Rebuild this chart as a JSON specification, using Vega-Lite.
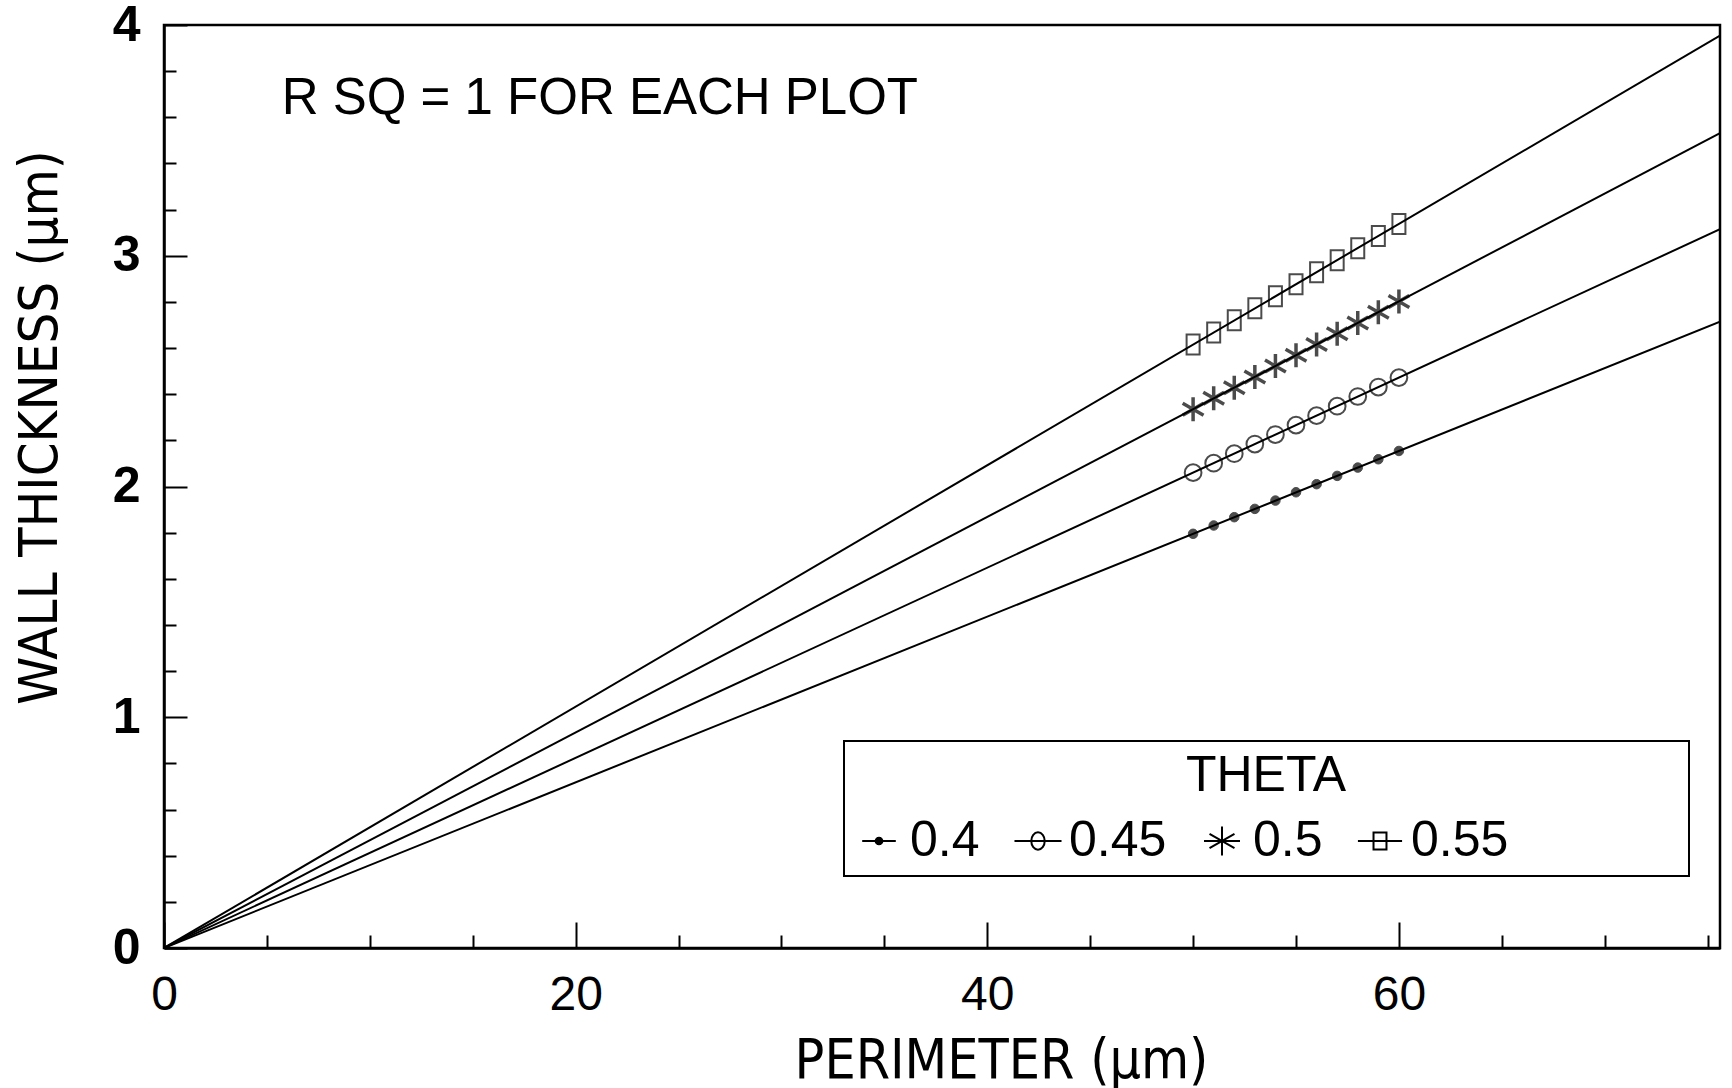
{
  "$schema": "https://vega.github.io/schema/vega-lite/v6.json",
  "width": 1556,
  "height": 923,
  "autosize": {"type": "none"},
  "padding": {"left": 164, "top": 25, "right": 12, "bottom": 140},
  "background": "white",
  "config": {
    "view": {"stroke": "black", "strokeWidth": 2.5},
    "font": "Liberation Sans",
    "axis": {"domainColor": "black", "domainWidth": 2.5, "tickColor": "black", "tickWidth": 2, "labelColor": "black", "titleColor": "black", "grid": false, "labelOverlap": false},
    "legend": {
      "orient": "none", "legendX": 680, "legendY": 716, "direction": "horizontal", "columns": 5,
      "titleFontSize": 50, "titleFont": "Liberation Sans", "titleFontWeight": "normal", "titleAnchor": "middle", "titleColor": "black", "titlePadding": 15,
      "labelFontSize": 50, "labelFont": "Liberation Sans", "labelOffset": 6, "labelLimit": 400,
      "columnPadding": 30, "padding": 10, "fillColor": "white", "strokeColor": "black", "strokeWidth": 2,
      "symbolSize": 2304, "symbolStrokeWidth": 2, "symbolStrokeColor": "black", "symbolFillColor": "transparent", "symbolOpacity": 1
    }
  },
  "datasets": {
    "lines": [
      {"theta": "0.4", "x": 0, "y": 0}, {"theta": "0.4", "x": 75.6, "y": 2.714},
      {"theta": "0.45", "x": 0, "y": 0}, {"theta": "0.45", "x": 75.6, "y": 3.115},
      {"theta": "0.5", "x": 0, "y": 0}, {"theta": "0.5", "x": 75.6, "y": 3.531},
      {"theta": "0.55", "x": 0, "y": 0}, {"theta": "0.55", "x": 75.6, "y": 3.954}
    ],
    "pts": [
      {"theta": "0.4", "x": 50, "y": 1.795}, {"theta": "0.4", "x": 51, "y": 1.831}, {"theta": "0.4", "x": 52, "y": 1.867}, {"theta": "0.4", "x": 53, "y": 1.903}, {"theta": "0.4", "x": 54, "y": 1.939}, {"theta": "0.4", "x": 55, "y": 1.975}, {"theta": "0.4", "x": 56, "y": 2.010}, {"theta": "0.4", "x": 57, "y": 2.046}, {"theta": "0.4", "x": 58, "y": 2.082}, {"theta": "0.4", "x": 59, "y": 2.118}, {"theta": "0.4", "x": 60, "y": 2.154},
      {"theta": "0.45", "x": 50, "y": 2.060}, {"theta": "0.45", "x": 51, "y": 2.101}, {"theta": "0.45", "x": 52, "y": 2.142}, {"theta": "0.45", "x": 53, "y": 2.184}, {"theta": "0.45", "x": 54, "y": 2.225}, {"theta": "0.45", "x": 55, "y": 2.266}, {"theta": "0.45", "x": 56, "y": 2.307}, {"theta": "0.45", "x": 57, "y": 2.348}, {"theta": "0.45", "x": 58, "y": 2.390}, {"theta": "0.45", "x": 59, "y": 2.431}, {"theta": "0.45", "x": 60, "y": 2.472},
      {"theta": "0.5", "x": 50, "y": 2.335}, {"theta": "0.5", "x": 51, "y": 2.382}, {"theta": "0.5", "x": 52, "y": 2.428}, {"theta": "0.5", "x": 53, "y": 2.475}, {"theta": "0.5", "x": 54, "y": 2.522}, {"theta": "0.5", "x": 55, "y": 2.569}, {"theta": "0.5", "x": 56, "y": 2.615}, {"theta": "0.5", "x": 57, "y": 2.662}, {"theta": "0.5", "x": 58, "y": 2.709}, {"theta": "0.5", "x": 59, "y": 2.755}, {"theta": "0.5", "x": 60, "y": 2.802},
      {"theta": "0.55", "x": 50, "y": 2.615}, {"theta": "0.55", "x": 51, "y": 2.667}, {"theta": "0.55", "x": 52, "y": 2.720}, {"theta": "0.55", "x": 53, "y": 2.772}, {"theta": "0.55", "x": 54, "y": 2.824}, {"theta": "0.55", "x": 55, "y": 2.877}, {"theta": "0.55", "x": 56, "y": 2.929}, {"theta": "0.55", "x": 57, "y": 2.981}, {"theta": "0.55", "x": 58, "y": 3.033}, {"theta": "0.55", "x": 59, "y": 3.086}, {"theta": "0.55", "x": 60, "y": 3.138}
    ],
    "note": [{"x": 5.72, "y": 3.614, "label": "R SQ = 1 FOR EACH PLOT"}]
  },
  "encoding": {
    "x": {
      "field": "x", "type": "quantitative",
      "scale": {"domain": [0, 75.6], "nice": false, "zero": true},
      "axis": {
        "title": "PERIMETER (μm)",
        "values": [0, 5, 10, 15, 20, 25, 30, 35, 40, 45, 50, 55, 60, 65, 70, 75],
        "format": "d",
        "labelExpr": "datum.value % 20 === 0 ? datum.label : ''",
        "tickSize": {"condition": {"test": "datum.value % 20 === 0", "value": -26}, "value": -13},
        "labelPadding": 49, "labelFontSize": 48, "labelFont": "Liberation Sans", "labelFlush": false,
        "titleFont": "Liberation Sans Narrow, DejaVu Sans Condensed", "titleFontSize": 55, "titleFontWeight": "normal", "titlePadding": 2, "titleX": 837
      }
    },
    "y": {
      "field": "y", "type": "quantitative",
      "scale": {"domain": [0, 4], "nice": false, "zero": true},
      "axis": {
        "title": "WALL THICKNESS (μm)",
        "values": [0, 0.2, 0.4, 0.6, 0.8, 1, 1.2, 1.4, 1.6, 1.8, 2, 2.2, 2.4, 2.6, 2.8, 3, 3.2, 3.4, 3.6, 3.8, 4],
        "tickCount": 30,
        "labelExpr": "abs(datum.value - round(datum.value)) < 0.001 ? format(round(datum.value), 'd') : ''",
        "tickSize": {"condition": {"test": "abs(datum.value - round(datum.value)) < 0.001", "value": -23}, "value": -12},
        "labelPadding": 47, "labelFontSize": 50, "labelFont": "Liberation Sans", "labelFontWeight": "bold", "labelFlush": false,
        "titleFont": "Liberation Sans Narrow, DejaVu Sans Condensed", "titleFontSize": 54, "titleFontWeight": "normal", "titlePadding": 45, "titleY": 402
      }
    }
  },
  "layer": [
    {
      "data": {"name": "lines"},
      "mark": {"type": "line", "color": "black", "strokeWidth": 2, "clip": true},
      "encoding": {"detail": {"field": "theta", "type": "nominal"}}
    },
    {
      "data": {"name": "pts"},
      "mark": {"type": "point", "stroke": "black"},
      "encoding": {
        "shape": {"field": "theta", "type": "nominal", "legend": null,
          "scale": {"domain": ["0.4", "0.45", "0.5", "0.55"], "range": ["circle", "circle", "M0,-1V1M-0.87,-0.5L0.87,0.5M-0.87,0.5L0.87,-0.5", "M-0.65,-1H0.65V1H-0.65Z"]}},
        "fill": {"field": "theta", "type": "nominal", "legend": null,
          "scale": {"domain": ["0.4", "0.45", "0.5", "0.55"], "range": ["black", "transparent", "transparent", "transparent"]}},
        "size": {"field": "theta", "type": "nominal", "legend": null,
          "scale": {"type": "ordinal", "domain": ["0.4", "0.45", "0.5", "0.55"], "range": [90, 280, 576, 400]}},
        "strokeWidth": {"field": "theta", "type": "nominal", "legend": null,
          "scale": {"type": "ordinal", "domain": ["0.4", "0.45", "0.5", "0.55"], "range": [1, 2, 3.5, 2]}}
      }
    },
    {
      "data": {"name": "pts"},
      "mark": {"type": "point", "filled": false, "color": "black", "opacity": 0},
      "encoding": {
        "shape": {"field": "theta", "type": "nominal",
          "scale": {"domain": ["0.4", "0.45", "0.5", "0.55", "pad"],
            "range": [
              "M-0.7,0H0.7M-0.14,0A0.14,0.14 0 1,0 0.14,0A0.14,0.14 0 1,0 -0.14,0M-0.09,0A0.09,0.09 0 1,0 0.09,0A0.09,0.09 0 1,0 -0.09,0M-0.04,0A0.04,0.04 0 1,0 0.04,0A0.04,0.04 0 1,0 -0.04,0",
              "M-0.98,0H0.98M-0.28,0A0.28,0.36 0 1,0 0.28,0A0.28,0.36 0 1,0 -0.28,0",
              "M-0.75,0H0.75M0,-0.6V0.6M-0.52,-0.3L0.52,0.3M-0.52,0.3L0.52,-0.3",
              "M-0.92,0H0.92M-0.27,-0.35H0.27V0.35H-0.27Z",
              "M0,0"
            ]},
          "legend": {
            "title": "THETA",
            "labelColor": {"expr": "datum.value == 'pad' ? 'white' : 'black'"},
            "labelExpr": "datum.label == 'pad' ? 'ooo' : datum.label"
          }
        }
      }
    },
    {
      "data": {"name": "note"},
      "mark": {"type": "text", "align": "left", "baseline": "alphabetic", "fontSize": 51, "font": "Liberation Sans", "color": "black"},
      "encoding": {"text": {"field": "label", "type": "nominal"}}
    }
  ],
  "resolve": {"scale": {"shape": "independent"}}
}
